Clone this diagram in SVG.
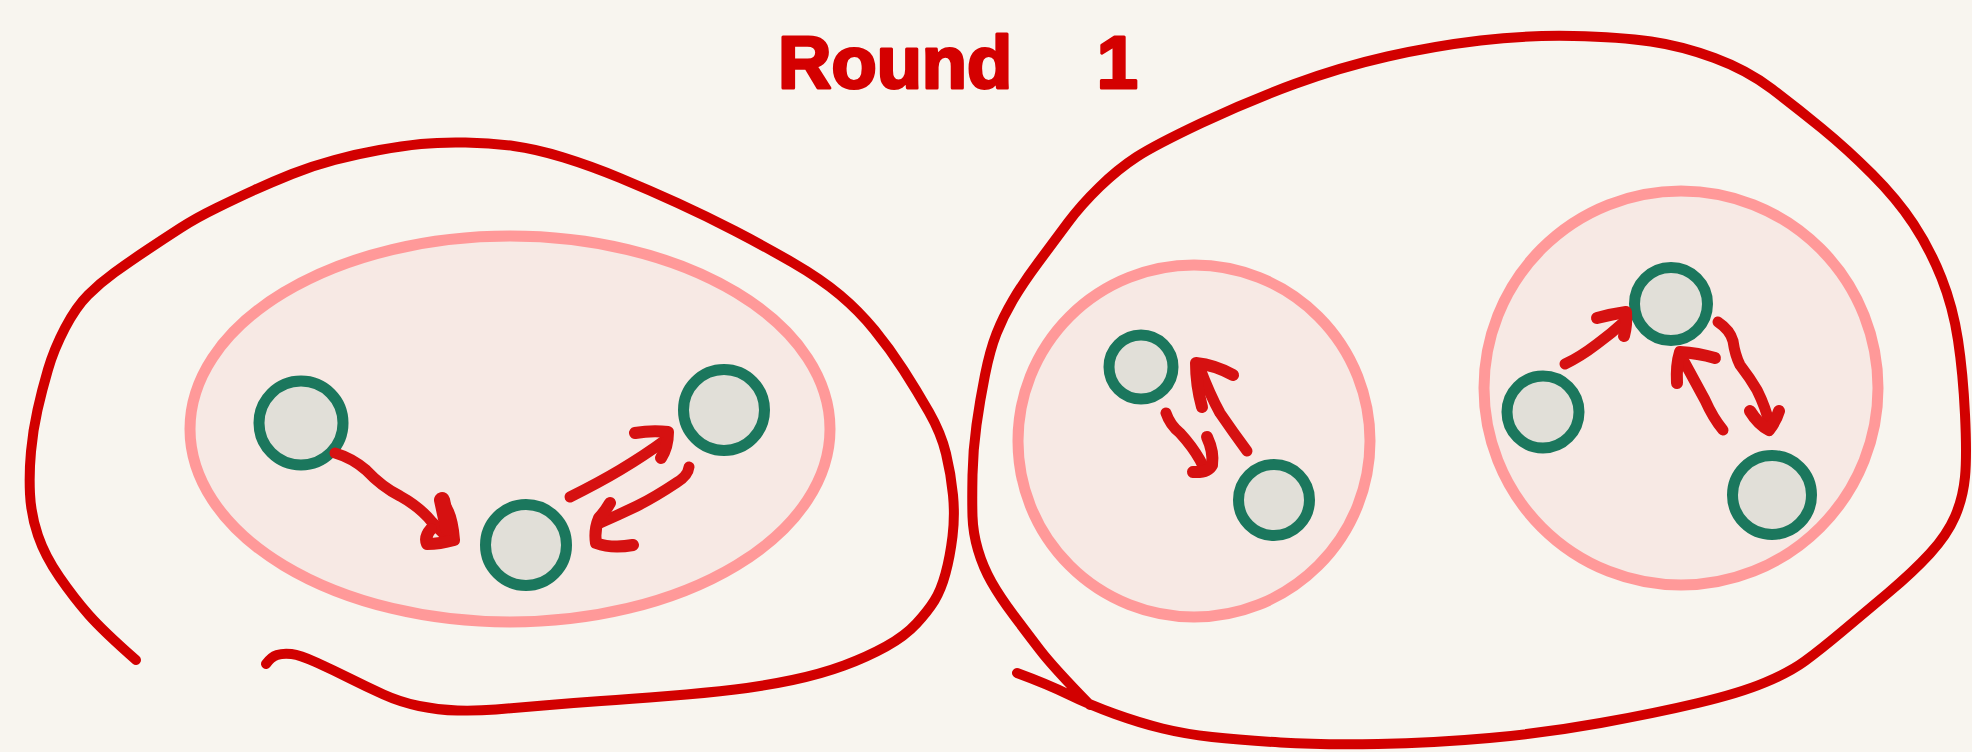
<svg xmlns="http://www.w3.org/2000/svg" width="1972" height="752" viewBox="0 0 1972 752">
<style>
.bg{fill:#f8f5ef}
.outer{fill:none;stroke:#d20000;stroke-width:10;stroke-linecap:round;stroke-linejoin:round}
.group{fill:#f7e9e4;stroke:#ff9999;stroke-width:11}
.node{fill:#e1dfd8;stroke:#1b775d;stroke-width:11}
.arrow{fill:none;stroke:#d61111;stroke-width:11;stroke-linecap:round;stroke-linejoin:round}
.head{fill:none;stroke:#d61111;stroke-width:12;stroke-linecap:round;stroke-linejoin:round}
.title{font-family:"Liberation Sans",Arial,sans-serif;font-weight:bold;font-size:74px;fill:#d40000;stroke:#d40000;stroke-width:3;stroke-linejoin:round}
</style>
<rect class="bg" x="0" y="0" width="1972" height="752"/>
<g id="title">
<text class="title" x="778" y="88">Round<tspan dx="64"> 1</tspan></text>
</g>
<g id="outer-left">
<path class="outer" d="M136,660 Q103,631 88.5,614.5 Q74,598 59.5,577 Q45,556 38,535.5 Q31,515 30,494 Q29,473 31,451.5 Q33,430 37.5,410 Q42,390 48,369.5 Q54,349 65,328 Q76,307 88,295 Q100,283 114.5,272.5 Q129,262 147,250 Q165,238 180.5,228 Q196,218 216.5,208 Q237,198 254.5,190 Q272,182 292,174 Q312,166 334.5,160 Q357,154 379.5,150 Q402,146 421,144 Q440,142 465.5,142.5 Q491,143 513.5,146 Q536,149 563.5,157.5 Q591,166 620,178 Q649,190 677.5,203 Q706,216 735,231 Q764,246 792.5,262.5 Q821,279 840,295 Q859,311 874.5,330 Q890,349 903.5,370 Q917,391 929,412 Q941,433 946,453.5 Q951,474 953,495 Q955,516 952.5,536.5 Q950,557 945.5,573.5 Q941,590 934.5,600.5 Q928,611 916.5,623.5 Q905,636 886,646.5 Q867,657 844,665.5 Q821,674 792.5,680 Q764,686 735,689.5 Q706,693 668,696 Q630,699 601,701 Q572,703 543.5,705.5 Q515,708 496,709.5 Q477,711 457.5,710.5 Q438,710 419,706 Q400,702 383.5,694.5 Q367,687 350,678.5 Q333,670 316.5,662.5 Q300,655 291.5,654 Q283,653 277,655 Q271,657 266,664"/>
</g>
<g id="outer-right">
<path class="outer" d="M1017,673 Q1047,684 1068.5,694.5 Q1090,705 1115,714 Q1140,723 1162.5,728.5 Q1185,734 1212,737 Q1239,740 1280.5,742.5 Q1322,745 1378,744 Q1434,743 1489.5,738 Q1545,733 1600.5,723 Q1656,713 1698,703 Q1740,693 1765,682.5 Q1790,672 1805,661 Q1820,650 1841.5,632 Q1863,614 1888,593 Q1913,572 1930,553.5 Q1947,535 1955,516.5 Q1963,498 1965,477 Q1967,456 1965,414.5 Q1963,373 1958,340 Q1953,307 1941.5,278 Q1930,249 1913.5,224 Q1897,199 1872,174 Q1847,149 1822,128.5 Q1797,108 1772,89 Q1747,70 1714.5,58 Q1682,46 1651,41.5 Q1620,37 1573.5,36 Q1527,35 1480.5,40.5 Q1434,46 1387.5,56.5 Q1341,67 1294.5,84 Q1248,101 1201.5,123 Q1155,145 1136.5,157 Q1118,169 1099.5,187 Q1081,205 1068,222.5 Q1055,240 1039,261.5 Q1023,283 1013,300 Q1003,317 996.5,333.5 Q990,350 985,375 Q980,400 976.5,425 Q973,450 972.5,475 Q972,500 972.5,516.5 Q973,533 978,550 Q983,567 991.5,582 Q1000,597 1013.5,615 Q1027,633 1040,650 Q1053,667 1090,705"/>
</g>
<g id="group-left">
<ellipse class="group" cx="510" cy="429" rx="320" ry="193"/>
</g>
<g id="group-mid">
<circle class="group" cx="1194" cy="441" r="176"/>
</g>
<g id="group-right">
<circle class="group" cx="1681" cy="388" r="197"/>
</g>
<g id="node-a"><circle class="node" cx="301" cy="423" r="42"/></g>
<g id="node-b"><circle class="node" cx="526" cy="545" r="40.5"/></g>
<g id="node-c"><circle class="node" cx="724" cy="410" r="40.5"/></g>
<g id="node-d"><circle class="node" cx="1141" cy="367" r="32"/></g>
<g id="node-e"><circle class="node" cx="1274" cy="500" r="35.5"/></g>
<g id="node-f"><circle class="node" cx="1671" cy="304" r="36.5"/></g>
<g id="node-g"><circle class="node" cx="1543" cy="412" r="36"/></g>
<g id="node-h"><circle class="node" cx="1772" cy="495" r="39.5"/></g>
<g id="connectors">
<path class="arrow" d="M335,453 Q352,458 366,470 Q382,487 400,496 Q420,507 432,522 L446,536"/>
<path class="head" d="M441,500 Q452,512 454,540 Q440,544 427,544 Q424,537 431,529"/>
<path class="head" d="M442,500 L448,528" style="stroke-width:16"/>
<path class="arrow" d="M570,497 Q600,482 620,470 Q645,455 664,441"/>
<path class="head" d="M635,433 Q652,430 668,432 Q668,447 661,458"/>
<path class="arrow" d="M689,467 Q688,476 676,483 Q655,497 637,506 Q618,515 600,523"/>
<path class="head" d="M610,503 Q604,513 599,518 Q594,530 596,543 Q612,549 633,545"/>
<path class="arrow" d="M1166,413 Q1170,425 1180,433 Q1192,446 1200,460 L1204,468"/>
<path class="head" d="M1207,437 Q1214,452 1212,465 Q1208,473 1193,472"/>
<path class="arrow" d="M1247,451 Q1233,432 1220,413 Q1210,395 1199,366"/>
<path class="head" d="M1202,407 Q1196,385 1196,363 Q1215,365 1233,375"/>
<path class="arrow" d="M1565,364 Q1580,357 1597,344 Q1612,333 1625,321"/>
<path class="head" d="M1597,318 Q1612,314 1626,312 Q1627,325 1624,336"/>
<path class="arrow" d="M1723,430 Q1713,418 1705,400 Q1693,378 1680,354"/>
<path class="head" d="M1677,383 Q1676,365 1680,352 Q1698,353 1715,358"/>
<path class="arrow" d="M1718,322 Q1730,330 1733,341 Q1735,355 1740,365 Q1750,378 1757,390 Q1766,408 1770,426"/>
<path class="head" d="M1750,411 Q1758,424 1769,430 Q1776,421 1779,411"/>
</g>
</svg>
